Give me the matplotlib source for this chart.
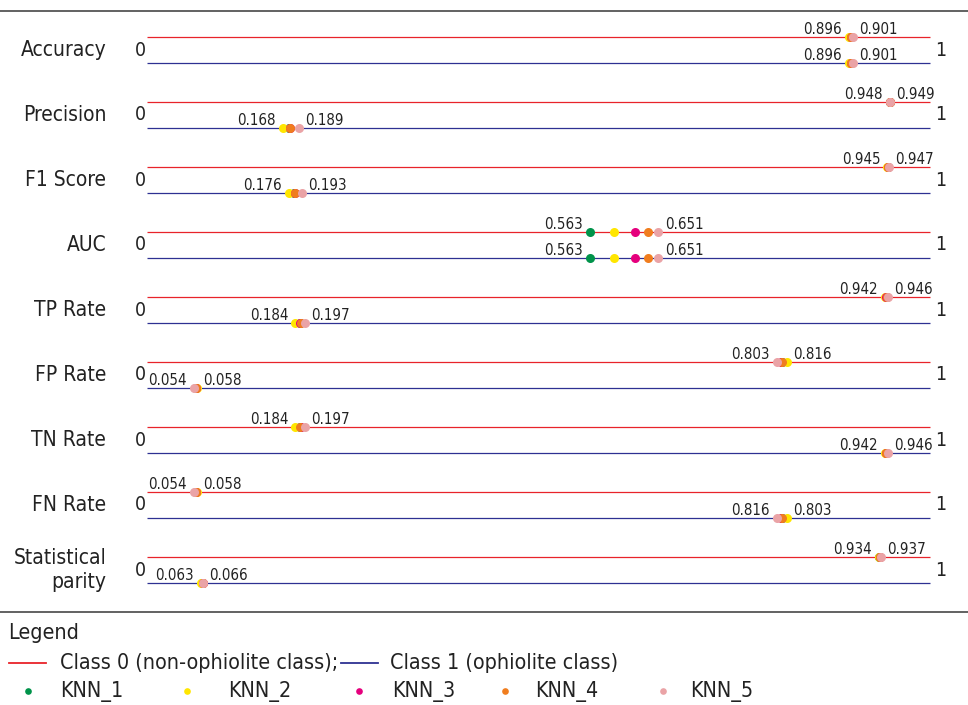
import matplotlib
matplotlib.use("Agg")
import matplotlib.pyplot as plt
from matplotlib.lines import Line2D

plt.rcParams['font.family'] = 'DejaVu Sans'
plt.rcParams['font.stretch'] = 'condensed'

metrics = ['Accuracy', 'Precision', 'F1 Score', 'AUC', 'TP Rate', 'FP Rate',
           'TN Rate', 'FN Rate', 'Statistical\nparity']
models = ['KNN_1', 'KNN_2', 'KNN_3', 'KNN_4', 'KNN_5']
model_colors = ['#00934a', '#ffe600', '#e5007d', '#f07d1e', '#eaa3a6']

# class 0 (red line) values per metric, KNN_1..KNN_5
class0 = [
    [0.897, 0.896, 0.899, 0.898, 0.901],
    [0.948, 0.948, 0.949, 0.949, 0.949],
    [0.946, 0.945, 0.946, 0.946, 0.947],
    [0.563, 0.594, 0.621, 0.637, 0.651],
    [0.944, 0.942, 0.944, 0.945, 0.946],
    [0.810, 0.816, 0.809, 0.810, 0.803],
    [0.190, 0.184, 0.191, 0.190, 0.197],
    [0.056, 0.058, 0.056, 0.056, 0.054],
    [0.935, 0.934, 0.936, 0.936, 0.937],
]
# class 1 (blue line)
class1 = [
    [0.897, 0.896, 0.899, 0.898, 0.901],
    [0.176, 0.168, 0.177, 0.178, 0.189],
    [0.183, 0.176, 0.184, 0.184, 0.193],
    [0.563, 0.594, 0.621, 0.637, 0.651],
    [0.190, 0.184, 0.190, 0.191, 0.197],
    [0.056, 0.058, 0.056, 0.056, 0.054],
    [0.944, 0.942, 0.944, 0.944, 0.946],
    [0.810, 0.816, 0.809, 0.810, 0.803],
    [0.064, 0.063, 0.065, 0.065, 0.066],
]

lo_lab_c0 = ['0.896', '0.948', '0.945', '0.563', '0.942', '0.803', '0.184', '0.054', '0.934']
hi_lab_c0 = ['0.901', '0.949', '0.947', '0.651', '0.946', '0.816', '0.197', '0.058', '0.937']
lo_lab_c1 = ['0.896', '0.168', '0.176', '0.563', '0.184', '0.054', '0.942', '0.816', '0.063']
hi_lab_c1 = ['0.901', '0.189', '0.193', '0.651', '0.197', '0.058', '0.946', '0.803', '0.066']

class_colors = ['#e8232a', '#2e3192']
class_names = ['Class 0 (non-ophiolite class);', 'Class 1 (ophiolite class)']

W, H = 968, 705
fig = plt.figure(figsize=(W / 100, H / 100), dpi=100)

# data axes: x 0..1 mapped to pixel 152..930, rows 65 px apart
x0px, scale = 152, 778
ax = fig.add_axes([0, 0, 1, 1])
ax.set_xlim(-x0px / scale, (W - x0px) / scale)
ax.set_ylim((H - 37) / 65, -37 / 65)
ax.axis('off')

gap = 26 / 65
for i, m in enumerate(metrics):
    rows = [(i, class0[i], lo_lab_c0[i], hi_lab_c0[i]),
            (i + gap, class1[i], lo_lab_c1[i], hi_lab_c1[i])]
    for k, (y, vals, lo, hi) in enumerate(rows):
        ax.hlines(y, -0.006, 1.0, color=class_colors[k], lw=0.9, zorder=1)
        for j, v in enumerate(vals):
            ax.plot(v, y, 'o', ms=6.5, color=model_colors[j], mec='none', zorder=2 + j)
        ax.annotate(lo, (min(vals), y), xytext=(-5, 2.5), textcoords='offset points',
                    ha='right', va='baseline', fontsize=10.8, color='#222222')
        ax.annotate(hi, (max(vals), y), xytext=(4.5, 2.5), textcoords='offset points',
                    ha='left', va='baseline', fontsize=10.8, color='#222222')
    mid = i + gap / 2
    ax.annotate(m, (0, mid), xytext=(-33, 0), textcoords='offset points',
                ha='right', va='center', fontsize=15, color='#222222',
                multialignment='right', linespacing=1.2)
    ax.annotate('0', (0, mid), xytext=(-8, 0), textcoords='offset points',
                ha='center', va='center', fontsize=14, color='#222222')
    ax.annotate('1', (1, mid), xytext=(8, 0), textcoords='offset points',
                ha='center', va='center', fontsize=14, color='#222222')

# overlay in pixel units for rules and legend
lg = fig.add_axes([0, 0, 1, 1], facecolor='none')
lg.set_xlim(0, W)
lg.set_ylim(H, 0)
lg.axis('off')
lg.axhline(11, color='#555555', lw=1.3)
lg.axhline(612, color='#555555', lw=1.3)

fs_leg = 15.4
lg.text(8, 633, 'Legend', ha='left', va='center', fontsize=fs_leg, color='#222222')
lg.add_line(Line2D([9, 46], [663, 663], color=class_colors[0], lw=1.3))
lg.text(60, 663, class_names[0], ha='left', va='center', fontsize=fs_leg, color='#222222')
lg.add_line(Line2D([341, 378], [663, 663], color=class_colors[1], lw=1.3))
lg.text(390, 663, class_names[1], ha='left', va='center', fontsize=fs_leg, color='#222222')

dot_x = [28, 187, 359, 505, 663]
txt_x = [60, 228, 392, 535, 690]
for j, name in enumerate(models):
    lg.plot(dot_x[j], 691, 'o', ms=4.8, color=model_colors[j], mec='none')
    lg.text(txt_x[j], 691, name, ha='left', va='center', fontsize=fs_leg, color='#222222')

fig.savefig('out.png', dpi=100)
